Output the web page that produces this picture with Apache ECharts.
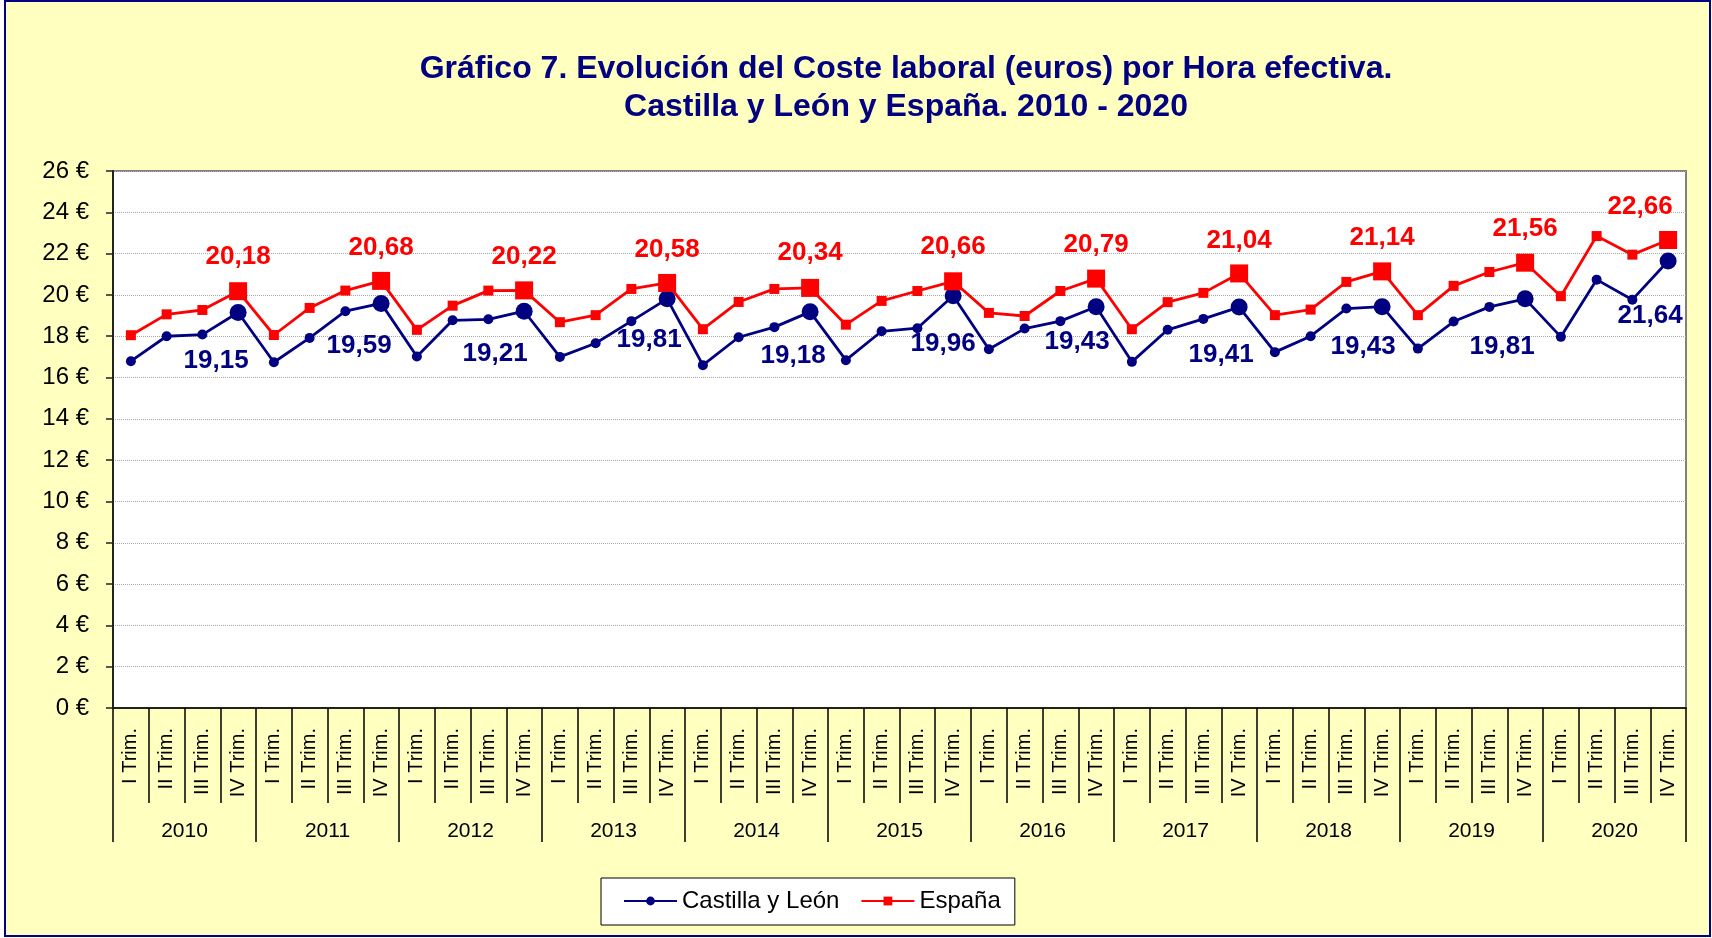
<!DOCTYPE html>
<html>
<head>
<meta charset="utf-8">
<script src="https://cdn.jsdelivr.net/npm/echarts@6/dist/echarts.min.js"></script>
<style>
  html, body { margin: 0; padding: 0; background: #fff; }
  #chart { width: 1712px; height: 938px; }
</style>
</head>
<body>
<div id="chart"></div>
<script>
// datos
var years = ['2010', '2011', '2012', '2013', '2014', '2015', '2016', '2017', '2018', '2019', '2020'];
var quarters = ['I Trim.', 'II Trim.', 'III Trim.', 'IV Trim.'];
var yTicks = [0, 2, 4, 6, 8, 10, 12, 14, 16, 18, 20, 22, 24, 26];

var castilla = [16.79, 18.00, 18.08, 19.15, 16.74, 17.92, 19.21, 19.59, 17.02, 18.77, 18.82, 19.21,
                17.00, 17.66, 18.73, 19.81, 16.60, 17.95, 18.44, 19.18, 16.84, 18.24, 18.39, 19.96,
                17.37, 18.37, 18.73, 19.43, 16.76, 18.31, 18.84, 19.41, 17.23, 18.00, 19.34, 19.43,
                17.40, 18.71, 19.42, 19.81, 17.97, 20.74, 19.77, 21.64];
var espana = [18.05, 19.06, 19.27, 20.18, 18.06, 19.37, 20.21, 20.68, 18.31, 19.48, 20.21, 20.22,
              18.68, 19.02, 20.29, 20.58, 18.34, 19.66, 20.29, 20.34, 18.56, 19.71, 20.19, 20.66,
              19.13, 18.98, 20.19, 20.79, 18.34, 19.65, 20.10, 21.04, 19.02, 19.29, 20.63, 21.14,
              19.02, 20.44, 21.11, 21.56, 19.94, 22.85, 21.95, 22.66];

// posición de las etiquetas (px respecto al punto)
var blueShift = [[-22, 48], [-22, 42], [-29, 43], [-18, 41], [-17, 44], [-10, 48],
                 [-19, 35], [-18, 48], [-19, 40], [-23, 48], [-18, 55]];
var redShift = [[0, -34], [0, -33], [0, -34], [0, -33], [0, -35], [0, -34],
                [0, -34], [0, -33], [0, -34], [0, -34], [-28, -33]];

var FONT = '"Liberation Sans", Arial, sans-serif';
var categories = [];
years.forEach(function (y) {
    quarters.forEach(function (q) { categories.push(q); });
});

function fmt(v) {
    return v.toFixed(2).replace('.', ',');
}

function buildData(values, bigSize, smallSize, shifts) {
    return values.map(function (v, i) {
        var q4 = i % 4 === 3;
        return {
            value: v,
            symbolSize: q4 ? bigSize : smallSize,
            label: { show: q4, offset: q4 ? shifts[(i - 3) / 4] : [0, 0] }
        };
    });
}

var chart = echarts.init(document.getElementById('chart'));
var option = {
    animation: false,
    backgroundColor: '#fff',
    graphic: [{
        type: 'rect',
        z: -10,
        shape: { x: 5, y: 1, width: 1705, height: 935 },
        style: { fill: '#FFFFC0', stroke: '#000080', lineWidth: 2 }
    }],
    title: {
        text: 'Gráfico 7. Evolución del Coste laboral (euros) por Hora efectiva.\nCastilla y León y España. 2010 - 2020',
        left: 906,
        top: 50,
        padding: 0,
        textAlign: 'center',
        textStyle: {
            fontFamily: FONT,
            fontSize: 32,
            fontWeight: 'bold',
            color: '#000080',
            lineHeight: 38
        }
    },
    legend: {
        left: 601,
        top: 878,
        orient: 'horizontal',
        padding: [11, 14, 12, 22],
        itemWidth: 53,
        itemHeight: 11,
        itemGap: 21,
        backgroundColor: '#fff',
        borderColor: '#000',
        borderWidth: 1,
        borderRadius: 0,
        textStyle: { fontFamily: FONT, fontSize: 24, color: '#000' },
        data: ['Castilla y León', 'España']
    },
    grid: {
        left: 113,
        top: 171,
        right: 26,
        bottom: 230,
        show: true,
        backgroundColor: '#fff',
        borderColor: '#808080',
        borderWidth: 2
    },
    xAxis: [{
        type: 'category',
        data: categories,
        axisLine: { lineStyle: { color: '#222', width: 2 } },
        axisTick: { show: true, interval: 0, length: 95, lineStyle: { color: '#000', width: 1.5 } },
        axisLabel: {
            interval: 0,
            rotate: 90,
            margin: 20,
            fontFamily: FONT,
            fontSize: 20,
            color: '#000'
        },
        splitLine: { show: false }
    }, {
        type: 'category',
        data: years,
        position: 'bottom',
        axisLine: { show: false },
        axisTick: { show: true, interval: 0, length: 134, lineStyle: { color: '#000', width: 1.5 } },
        axisLabel: {
            interval: 0,
            margin: 113,
            fontFamily: FONT,
            fontSize: 21,
            color: '#000'
        },
        splitLine: { show: false }
    }],
    yAxis: {
        type: 'value',
        min: yTicks[0],
        max: yTicks[yTicks.length - 1],
        interval: 2,
        axisLine: { show: true, lineStyle: { color: '#222', width: 2 } },
        axisTick: { show: true, length: 7, lineStyle: { color: '#222', width: 1.5 } },
        axisLabel: {
            margin: 24,
            fontFamily: FONT,
            fontSize: 24,
            color: '#000',
            formatter: '{value} €'
        },
        splitLine: { lineStyle: { color: '#a8a8a8', type: 'dotted', width: 1 } }
    },
    series: [{
        name: 'Castilla y León',
        type: 'line',
        xAxisIndex: 0,
        symbol: 'circle',
        symbolSize: 10,
        color: '#000080',
        lineStyle: { color: '#000080', width: 2.8 },
        itemStyle: { color: '#000080' },
        label: {
            position: 'inside',
            fontFamily: FONT,
            fontSize: 26,
            fontWeight: 'bold',
            color: '#000080',
            formatter: function (p) { return fmt(p.value); }
        },
        emphasis: { disabled: true },
        data: buildData(castilla, 17, 10, blueShift)
    }, {
        name: 'España',
        type: 'line',
        xAxisIndex: 0,
        symbol: 'rect',
        symbolSize: 10,
        color: '#ff0000',
        lineStyle: { color: '#ff0000', width: 2.8 },
        itemStyle: { color: '#ff0000' },
        label: {
            position: 'inside',
            fontFamily: FONT,
            fontSize: 26,
            fontWeight: 'bold',
            color: '#ff0000',
            formatter: function (p) { return fmt(p.value); }
        },
        emphasis: { disabled: true },
        data: buildData(espana, 18, 10, redShift)
    }]
};
chart.setOption(option);
</script>
</body>
</html>
